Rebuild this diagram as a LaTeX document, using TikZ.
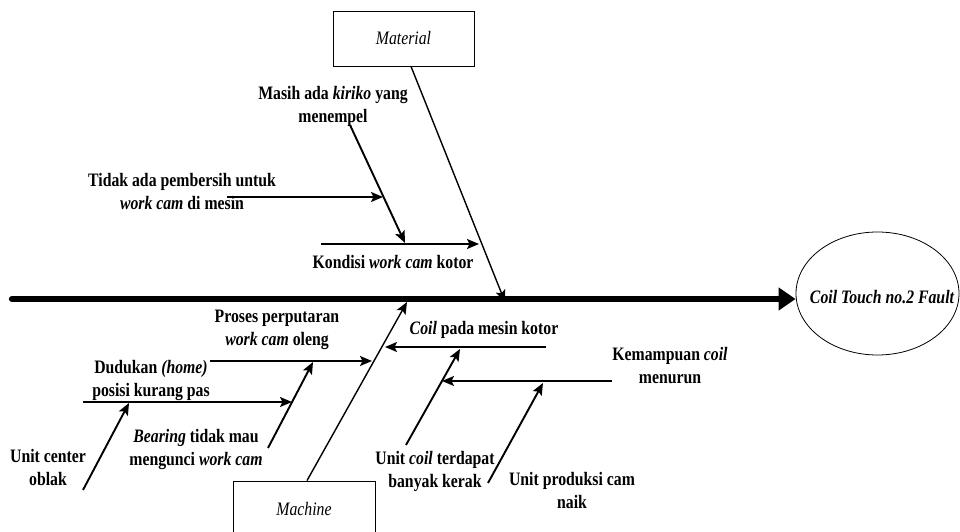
\documentclass[tikz,border=0pt]{standalone}
\usepackage{fontspec}
\setmainfont{Liberation Serif}[FakeStretch=0.83]
\usetikzlibrary{arrows.meta,shapes.geometric}

\begin{document}
\begin{tikzpicture}[x=1bp,y=-1bp,
  txt/.style={font=\fontsize{19bp}{23bp}\selectfont\bfseries, align=center, inner sep=0pt},
  tip/.style={-{Stealth[length=12bp,width=10bp,inset=2.5bp]}},
  cause/.style={tip, line width=1.9bp},
  bone/.style={tip, line width=1.4bp},
  catbox/.style={draw, line width=0.8bp, minimum width=141bp, minimum height=55bp,
    inner sep=0pt, font=\fontsize{19bp}{23bp}\selectfont\itshape},
  spine/.style={line width=6.3bp, line cap=round, -{Triangle[length=17bp,width=22bp]}},
]
\useasboundingbox (0,0) rectangle (960,532);

% effect
\node[ellipse, draw, line width=0.8bp, minimum width=163bp, minimum height=123bp,
  inner sep=0pt] (effect) at (877.5,293.5) {};
\node[txt, font=\fontsize{19bp}{23bp}\selectfont\bfseries\itshape] (effecttxt)
  at (882,297) {Coil Touch no.2 Fault};

% category boxes
\node[catbox] (mat) at (403.5,38.5) {Material};
\node[catbox, minimum width=142bp, minimum height=56bp] (mac) at (304,509) {Machine};

% spine ends
\coordinate (spineL) at (12,299);
\coordinate (matHit) at (505,302);
\coordinate (macHit) at (407,302);

% main bones
\draw[bone] ([xshift=7.5bp]mat.south) -- (matHit);
\draw[bone] ([xshift=3bp]mac.north) -- (macHit);

% spine
\draw[spine] (spineL) -- (spineL -| effect.west);

% ---- Material causes ----
\node[txt] (kondisi) at (393,262) {Kondisi \textit{work cam} kotor};
\coordinate (kondisiA) at (321,244);
\coordinate (kondisiB) at (479,244);
\draw[cause] (kondisiA) -- (kondisiB);

\node[txt] (kiriko) at (333,106.5) {Masih ada \textit{kiriko} yang\\menempel};
\coordinate (kirikoA) at (350,125);
\coordinate (kirikoB) at (405,243);
\draw[cause] (kirikoA) -- (kirikoB);

\node[txt] (tidak) at (182,191.5) {Tidak ada pembersih untuk\\\textit{work cam} di mesin};
\coordinate (tidakA) at (227,197);
\coordinate (tidakB) at (383,197);
\draw[cause] (tidakA) -- (tidakB);

% ---- Machine causes ----
\node[txt] (proses) at (277,330) {Proses perputaran\\\textit{work cam} oleng};
\coordinate (prosesA) at (210,361);
\coordinate (prosesB) at (372,361);
\draw[cause] (prosesA) -- (prosesB);

\node[txt] (dudukan) at (151,381) {Dudukan \textit{(home)}\\posisi kurang pas};
\coordinate (dudukanA) at (83,402);
\coordinate (dudukanB) at (292,402);
\draw[cause] (dudukanA) -- (dudukanB);

\node[txt] (bearing) at (196,450) {\textit{Bearing} tidak mau\\mengunci \textit{work cam}};
\coordinate (bearingA) at (268,448);
\coordinate (bearingB) at (313,362);
\draw[cause] (bearingA) -- (bearingB);

\node[txt] (center) at (48,467) {Unit center\\oblak};
\coordinate (centerA) at (83,490);
\coordinate (centerB) at (129,403);
\draw[cause] (centerA) -- (centerB);

\node[txt] (coilkotor) at (484,330) {\textit{Coil} pada mesin kotor};
\coordinate (coilkotorA) at (546,347);
\coordinate (coilkotorB) at (385,347);
\draw[cause] (coilkotorA) -- (coilkotorB);

\node[txt] (kemampuan) at (670,366) {Kemampuan \textit{coil}\\menurun};
\coordinate (kemampuanA) at (612,381);
\coordinate (kemampuanB) at (442,381);
\draw[cause] (kemampuanA) -- (kemampuanB);

\node[txt] (kerak) at (435,471) {Unit \textit{coil} terdapat\\banyak kerak};
\coordinate (kerakA) at (406,445);
\coordinate (kerakB) at (460,349);
\draw[cause] (kerakA) -- (kerakB);

\node[txt] (produksi) at (572,490) {Unit produksi cam\\naik};
\coordinate (produksiA) at (488,483);
\coordinate (produksiB) at (543,383);
\draw[cause] (produksiA) -- (produksiB);

\end{tikzpicture}
\end{document}
